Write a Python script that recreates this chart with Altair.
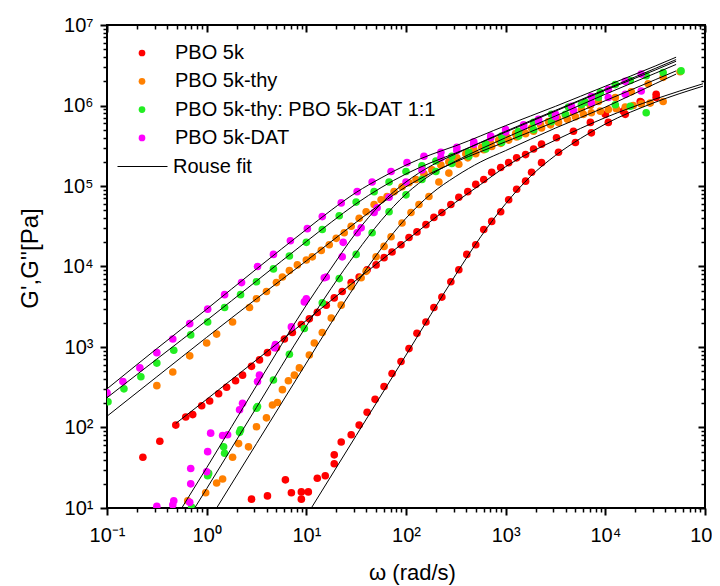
import altair as alt
import pandas as pd

FONT = "Liberation Sans"
SERIES = ["PBO 5k", "PBO 5k-thy", "PBO 5k-thy: PBO 5k-DAT 1:1", "PBO 5k-DAT"]
COLORS = ["#ff0000", "#ff8000", "#22ee22", "#ff00ff"]
FIT_NAME = "Rouse fit"

X_MAJOR = [0.1, 1, 10, 100, 1000, 10000, 100000]
Y_MAJOR = [10, 100, 1000, 10000, 100000, 1000000, 10000000]
X_MINOR = [k * d for d in [0.1, 1, 10, 100, 1000, 10000] for k in range(2, 10)]
Y_MINOR = [k * d for d in [10, 100, 1000, 10000, 100000, 1000000] for k in range(2, 10)]

# ---- measured data, log10(omega) and log10(G) ----
# PBO 5k  G''
R2_W = [-0.64, -0.47, -0.31, -0.21, -0.14, -0.05, 0.03, 0.12, 0.20, 0.29, 0.36, 0.45, 0.53, 0.61, 0.70, 0.78, 0.86, 0.95,
        1.03, 1.11, 1.20, 1.28, 1.36, 1.45, 1.53, 1.61, 1.70, 1.78, 1.86, 1.95, 2.03, 2.11, 2.20, 2.28, 2.36, 2.45, 2.53,
        2.62, 2.70, 2.78, 2.86, 2.95, 3.03, 3.11, 3.20, 3.28, 3.36, 3.51, 3.68, 3.85, 4.00, 4.18, 4.35, 4.51]
R2_G = [1.63, 1.83, 2.03, 2.13, 2.16, 2.27, 2.33, 2.42, 2.50, 2.58, 2.65, 2.76, 2.84, 2.93, 2.99, 3.10, 3.18, 3.28,
        3.35, 3.43, 3.52, 3.61, 3.69, 3.80, 3.87, 3.96, 4.02, 4.11, 4.18, 4.27, 4.36, 4.43, 4.52, 4.61, 4.67, 4.77, 4.86,
        4.93, 5.02, 5.08, 5.17, 5.23, 5.29, 5.35, 5.39, 5.46, 5.52, 5.60, 5.68, 5.79, 5.89, 5.93, 6.05, 6.14]
# PBO 5k  G'
R1_W = [0.45, 0.61, 0.79, 0.85, 0.95, 0.95, 1.02, 1.11, 1.19, 1.28, 1.28, 1.35, 1.45, 1.53, 1.61, 1.69, 1.78, 1.86,
        1.95, 2.03, 2.11, 2.20, 2.28, 2.36, 2.45, 2.53, 2.61, 2.70, 2.78, 2.86, 2.95, 3.03, 3.11, 3.20, 3.26, 3.36,
        3.53, 3.70, 3.86, 4.03, 4.20, 4.36, 4.51]
R1_G = [1.11, 1.15, 1.35, 1.19, 1.11, 1.20, 1.20, 1.37, 1.40, 1.55, 1.66, 1.82, 1.91, 2.03, 2.19, 2.35, 2.51, 2.67,
        2.82, 2.98, 3.17, 3.31, 3.49, 3.62, 3.81, 3.96, 4.15, 4.27, 4.46, 4.56, 4.68, 4.83, 4.96, 5.06, 5.17, 5.29,
        5.42, 5.54, 5.66, 5.79, 5.89, 6.04, 6.10]
# PBO 5k-thy  G''
O2_W = [-0.50, -0.34, -0.17, 0.00, 0.10, 0.26, 0.43, 0.50, 0.60, 0.70, 0.76, 0.83, 0.91, 1.00, 1.06, 1.15, 1.23, 1.30,
        1.38, 1.45, 1.53, 1.60, 1.68, 1.75, 1.81, 1.88, 1.96, 2.03, 2.10, 2.18, 2.26, 2.35, 2.43, 2.51, 2.60, 2.68,
        2.76, 2.85, 2.93, 3.01, 3.10, 3.18, 3.26, 3.35, 3.43, 3.52, 3.60, 3.68, 3.76, 3.85, 3.93, 4.10, 4.26, 4.43,
        4.58, 4.75]
O2_G = [2.52, 2.69, 2.89, 3.05, 3.16, 3.31, 3.49, 3.60, 3.69, 3.80, 3.87, 3.95, 4.02, 4.08, 4.12, 4.20, 4.27, 4.35,
        4.42, 4.50, 4.60, 4.68, 4.77, 4.83, 4.87, 4.93, 4.99, 5.04, 5.08, 5.15, 5.20, 5.26, 5.30, 5.35, 5.40, 5.45,
        5.48, 5.53, 5.57, 5.61, 5.65, 5.68, 5.72, 5.76, 5.80, 5.84, 5.88, 5.91, 5.95, 6.00, 6.05, 6.10, 6.17, 6.27,
        6.35, 6.42]
# PBO 5k-thy  G'
O1_W = [-0.19, -0.01, 0.10, 0.16, 0.26, 0.32, 0.42, 0.50, 0.60, 0.66, 0.71, 0.76, 0.82, 0.88, 0.93, 1.03, 1.08, 1.16,
        1.25, 1.35, 1.45, 1.55, 1.60, 1.70, 1.78, 1.85, 1.96, 2.05, 2.13, 2.23, 2.33, 2.43, 2.53, 2.62, 2.70, 2.78,
        2.86, 2.95, 3.03, 3.11, 3.20, 3.28, 3.36, 3.45, 3.53, 3.62, 3.70, 3.78, 3.86, 3.95, 4.03, 4.11, 4.20, 4.28,
        4.36, 4.45, 4.58]
O1_G = [1.09, 1.19, 1.31, 1.36, 1.63, 1.80, 1.76, 2.01, 2.12, 2.28, 2.31, 2.47, 2.58, 2.65, 2.74, 2.90, 3.05, 3.18,
        3.36, 3.52, 3.75, 3.86, 3.94, 4.12, 4.25, 4.37, 4.54, 4.67, 4.77, 4.87, 5.05, 5.16, 5.27, 5.35, 5.40, 5.45,
        5.49, 5.53, 5.57, 5.61, 5.65, 5.68, 5.72, 5.76, 5.79, 5.83, 5.86, 5.89, 5.91, 5.93, 5.95, 5.96, 5.98, 6.00,
        6.02, 6.03, 6.05]
# PBO 5k-thy: PBO 5k-DAT 1:1  G''
N2_W = [-0.99, -0.83, -0.66, -0.50, -0.33, -0.16, 0.01, 0.18, 0.34, 0.50, 0.67, 0.83, 1.00, 1.16, 1.33, 1.50, 1.68,
        1.83, 2.00, 2.16, 2.30, 2.46, 2.63, 2.80, 2.96, 3.13, 3.28, 3.46, 3.63, 3.80, 3.95, 4.10, 4.25, 4.41, 4.58, 4.76]
N2_G = [2.32, 2.48, 2.63, 2.80, 2.96, 3.15, 3.31, 3.49, 3.65, 3.81, 3.97, 4.13, 4.30, 4.46, 4.63, 4.80, 4.93,
        5.05, 5.18, 5.25, 5.31, 5.37, 5.42, 5.52, 5.62, 5.68, 5.79, 5.89, 5.98, 6.04, 6.16, 6.26, 6.31, 6.37, 6.41, 6.43]
# PBO 5k-thy: PBO 5k-DAT 1:1  G'
N1_W = [-0.15, 0.01, 0.02, 0.17, 0.18, 0.33, 0.34, 0.50, 0.51, 0.67, 0.83, 0.98, 1.16, 1.33, 1.50, 1.66, 1.83, 2.00,
        2.16, 2.30, 2.46, 2.63, 2.80, 2.96, 3.13, 3.28, 3.46, 3.60, 3.76, 3.93, 4.10, 4.25, 4.41]
N1_G = [1.01, 1.40, 1.43, 1.76, 1.68, 1.94, 1.97, 2.24, 2.26, 2.59, 2.91, 3.23, 3.55, 3.85, 4.15, 4.42, 4.68, 4.89,
        5.08, 5.18, 5.28, 5.37, 5.46, 5.54, 5.62, 5.70, 5.80, 5.89, 6.01, 6.10, 6.01, 5.99, 5.91]
# PBO 5k-DAT  G''
M2_W = [-1.00, -0.84, -0.67, -0.50, -0.34, -0.17, 0.01, 0.18, 0.35, 0.51, 0.67, 0.84, 1.01, 1.16, 1.35, 1.51, 1.66,
        1.85, 2.01, 2.18, 2.35, 2.51, 2.68, 2.85, 3.00, 3.18, 3.33, 3.50, 3.66, 3.86, 4.03, 4.20, 4.36]
M2_G = [2.43, 2.57, 2.74, 2.93, 3.10, 3.29, 3.47, 3.65, 3.80, 4.00, 4.15, 4.32, 4.47, 4.62, 4.79, 4.93, 5.05,
        5.18, 5.29, 5.37, 5.42, 5.48, 5.55, 5.62, 5.70, 5.76, 5.83, 5.89, 5.99, 6.11, 6.20, 6.30, 6.39]
# PBO 5k-DAT  G'
M1_W = [-0.50, -0.34, -0.33, -0.17, -0.16, -0.16, 0.00, 0.01, 0.04, 0.16, 0.21, 0.33, 0.36, 0.51, 0.53, 0.68, 0.69,
        0.85, 0.98, 1.00, 1.18, 1.20, 1.36, 1.37, 1.51, 1.55, 1.68, 1.71, 1.83, 2.00, 2.16, 2.35, 2.51, 2.68, 2.85,
        3.00, 3.18, 3.33, 3.50, 3.68, 3.86, 4.03, 4.20, 4.36]
M1_G = [1.02, 1.04, 1.09, 1.07, 1.30, 1.49, 1.45, 1.70, 1.93, 1.90, 1.91, 2.22, 2.30, 2.57, 2.65, 2.99, 3.03,
        3.25, 3.56, 3.60, 3.86, 3.87, 4.12, 4.30, 4.42, 4.48, 4.67, 4.73, 4.86, 5.05, 5.20, 5.35, 5.44, 5.52, 5.60,
        5.67, 5.74, 5.80, 5.86, 5.94, 6.03, 6.10, 6.14, 6.18]

# ---- Rouse fit curves, log10 values ----
FR2_W = [-0.31, 0.0, 0.5, 1.0, 1.5, 2.0, 2.5, 2.75, 3.0, 3.25, 3.5, 4.0, 4.5, 4.98]
FR2_G = [2.05, 2.35, 2.84, 3.33, 3.83, 4.32, 4.80, 5.02, 5.24, 5.42, 5.57, 5.85, 6.08, 6.27]
FR1_W = [1.05, 1.5, 2.0, 2.5, 2.75, 3.0, 3.25, 3.5, 3.75, 4.0, 4.5, 4.98]
FR1_G = [1.00, 1.90, 2.90, 3.90, 4.37, 4.78, 5.12, 5.38, 5.59, 5.77, 6.04, 6.24]
FO2_W = [-1.0, -0.5, 0.0, 0.5, 1.0, 1.25, 1.5, 1.75, 2.0, 2.25, 2.5, 3.0, 3.5, 4.0, 4.5, 4.71]
FO2_G = [2.14, 2.63, 3.12, 3.60, 4.07, 4.31, 4.55, 4.78, 4.99, 5.16, 5.30, 5.55, 5.80, 6.06, 6.32, 6.43]
FO1_W = [0.1, 0.5, 1.0, 1.25, 1.5, 1.75, 2.0, 2.25, 2.5, 2.75, 3.0, 3.5, 4.0, 4.5, 4.71]
FO1_G = [1.00, 1.80, 2.80, 3.30, 3.78, 4.22, 4.60, 4.90, 5.12, 5.30, 5.44, 5.72, 5.98, 6.27, 6.39]
FN2_W = [-1.0, -0.5, 0.0, 0.5, 1.0, 1.25, 1.5, 1.75, 2.0, 2.25, 2.5, 3.0, 3.5, 4.0, 4.5, 4.71]
FN2_G = [2.37, 2.85, 3.33, 3.82, 4.31, 4.55, 4.78, 4.98, 5.15, 5.29, 5.41, 5.67, 5.93, 6.19, 6.44, 6.55]
FN1_W = [-0.12, 0.0, 0.5, 1.0, 1.25, 1.5, 1.75, 2.0, 2.25, 2.5, 3.0, 3.5, 4.0, 4.5, 4.71]
FN1_G = [1.00, 1.24, 2.25, 3.26, 3.73, 4.17, 4.57, 4.90, 5.14, 5.31, 5.60, 5.87, 6.14, 6.40, 6.51]
FM2_W = [-1.0, -0.5, 0.0, 0.5, 1.0, 1.25, 1.5, 1.75, 2.0, 2.25, 2.5, 3.0, 3.5, 4.0, 4.5, 4.71]
FM2_G = [2.48, 2.98, 3.47, 3.97, 4.46, 4.70, 4.92, 5.10, 5.26, 5.39, 5.50, 5.75, 5.99, 6.24, 6.49, 6.60]
FM1_W = [-0.25, 0.0, 0.5, 1.0, 1.25, 1.5, 1.75, 2.0, 2.25, 2.5, 3.0, 3.5, 4.0, 4.5, 4.71]
FM1_G = [1.00, 1.50, 2.52, 3.52, 3.98, 4.42, 4.78, 5.05, 5.25, 5.40, 5.68, 5.94, 6.20, 6.46, 6.57]

POINT_SETS = [
    (SERIES[0], R2_W, R2_G), (SERIES[0], R1_W, R1_G),
    (SERIES[1], O2_W, O2_G), (SERIES[1], O1_W, O1_G),
    (SERIES[2], N2_W, N2_G), (SERIES[2], N1_W, N1_G),
    (SERIES[3], M2_W, M2_G), (SERIES[3], M1_W, M1_G),
]
FIT_SETS = [
    ("r2", FR2_W, FR2_G), ("r1", FR1_W, FR1_G), ("o2", FO2_W, FO2_G), ("o1", FO1_W, FO1_G),
    ("n2", FN2_W, FN2_G), ("n1", FN1_W, FN1_G), ("m2", FM2_W, FM2_G), ("m1", FM1_W, FM1_G),
]

prow = []
for name, ws, gs in POINT_SETS:
    for w, g in zip(ws, gs):
        prow.append({"w": 10 ** w, "g": 10 ** g, "series": name})
pts = pd.DataFrame(prow)

frow = []
for cid, ws, gs in FIT_SETS:
    for w, g in zip(ws, gs):
        frow.append({"w": 10 ** w, "g": 10 ** g, "curve": cid, "fit": FIT_NAME})
fits = pd.DataFrame(frow)

W, H = 598, 483
xs = alt.Scale(type="log", domain=[0.1, 100000], nice=False)
ys = alt.Scale(type="log", domain=[10, 10000000], nice=False)

SUP = "'10' + (round(log(datum.value)/LN10) < 0 ? '⁻' : '') + substring('⁰¹²³⁴⁵⁶⁷⁸⁹', abs(round(log(datum.value)/LN10)), abs(round(log(datum.value)/LN10)) + 1)"

common = dict(grid=False, domain=False, tickColor="black", labelOverlap=False)

ax_bottom = alt.Axis(orient="bottom", values=X_MAJOR, labelExpr=SUP, tickSize=7, tickWidth=2,
                     labelFontSize=20, labelPadding=10, labelFlush=False, title="ω (rad/s)",
                     titleFontSize=22, titleX=305, titleY=71, titleAlign="center",
                     titleBaseline="alphabetic", **common)
ax_left = alt.Axis(orient="left", values=Y_MAJOR, labelExpr=SUP, tickSize=7, tickWidth=2,
                   labelFontSize=20, labelPadding=7, labelFlush=False, title="G',G''[Pa]",
                   titleFontSize=24, titleAngle=270, titleX=-70, titleY=233, titleAlign="center",
                   titleBaseline="alphabetic", **common)
ax_bottom_minor = alt.Axis(orient="bottom", values=X_MINOR, labels=False, tickSize=4, tickWidth=1.5,
                           title=None, **common)
ax_left_minor = alt.Axis(orient="left", values=Y_MINOR, labels=False, tickSize=4, tickWidth=1.5,
                         title=None, **common)
ax_top = alt.Axis(orient="bottom", offset=-H, values=X_MAJOR, labels=False, tickSize=7, tickWidth=2,
                  title=None, **common)
ax_right = alt.Axis(orient="left", offset=-W, values=Y_MAJOR, labels=False, tickSize=7, tickWidth=2,
                    title=None, **common)
ax_top_minor = alt.Axis(orient="bottom", offset=-H, values=X_MINOR, labels=False, tickSize=4, tickWidth=1.5,
                        title=None, **common)
ax_right_minor = alt.Axis(orient="left", offset=-W, values=Y_MINOR, labels=False, tickSize=4, tickWidth=1.5,
                          title=None, **common)

leg_fill = alt.Legend(orient="none", legendX=25, legendY=18, title=None, symbolType="circle", symbolSize=45,
                      labelFontSize=20, labelOffset=23, rowPadding=8.3, padding=0, labelLimit=500,
                      symbolStrokeWidth=0, labelFont=FONT, labelColor="black")
leg_stroke = alt.Legend(orient="none", legendX=10, legendY=116, title=None, symbolType="stroke", symbolSize=2500,
                        symbolStrokeWidth=1, labelFontSize=20, labelOffset=5, padding=0, labelFont=FONT,
                        labelColor="black")

points = alt.Chart(pts).mark_circle(size=58, opacity=1, clip=True).encode(
    x=alt.X("w:Q", scale=xs, axis=ax_bottom),
    y=alt.Y("g:Q", scale=ys, axis=ax_left),
    fill=alt.Fill("series:N", scale=alt.Scale(domain=SERIES, range=COLORS), legend=leg_fill),
)

lines = alt.Chart(fits).mark_line(strokeWidth=1, clip=True, interpolate="monotone").encode(
    x=alt.X("w:Q", scale=xs, axis=ax_bottom_minor),
    y=alt.Y("g:Q", scale=ys, axis=ax_left_minor),
    detail="curve:N",
    stroke=alt.Stroke("fit:N", scale=alt.Scale(domain=[FIT_NAME], range=["black"]), legend=leg_stroke),
)

ghost1 = alt.Chart(fits).mark_line(strokeOpacity=0, clip=True).encode(
    x=alt.X("w:Q", scale=xs, axis=ax_top),
    y=alt.Y("g:Q", scale=ys, axis=ax_right),
    detail="curve:N",
)
ghost2 = alt.Chart(fits).mark_line(strokeOpacity=0, clip=True).encode(
    x=alt.X("w:Q", scale=xs, axis=ax_top_minor),
    y=alt.Y("g:Q", scale=ys, axis=ax_right_minor),
    detail="curve:N",
)

chart = alt.layer(points, lines, ghost1, ghost2).resolve_axis(
    x="independent", y="independent"
).properties(
    width=W, height=H,
    autosize=alt.AutoSizeParams(type="none"),
    padding={"left": 99, "top": 17, "right": 7, "bottom": 78},
    background="white",
).configure_view(
    stroke="black", strokeWidth=2
).configure_axis(
    labelFont=FONT, titleFont=FONT, labelColor="black", titleColor="black", titleFontWeight="normal"
).configure_legend(
    labelFont=FONT
)

chart.save("out.html", embed_options={"renderer": "svg", "actions": False})
